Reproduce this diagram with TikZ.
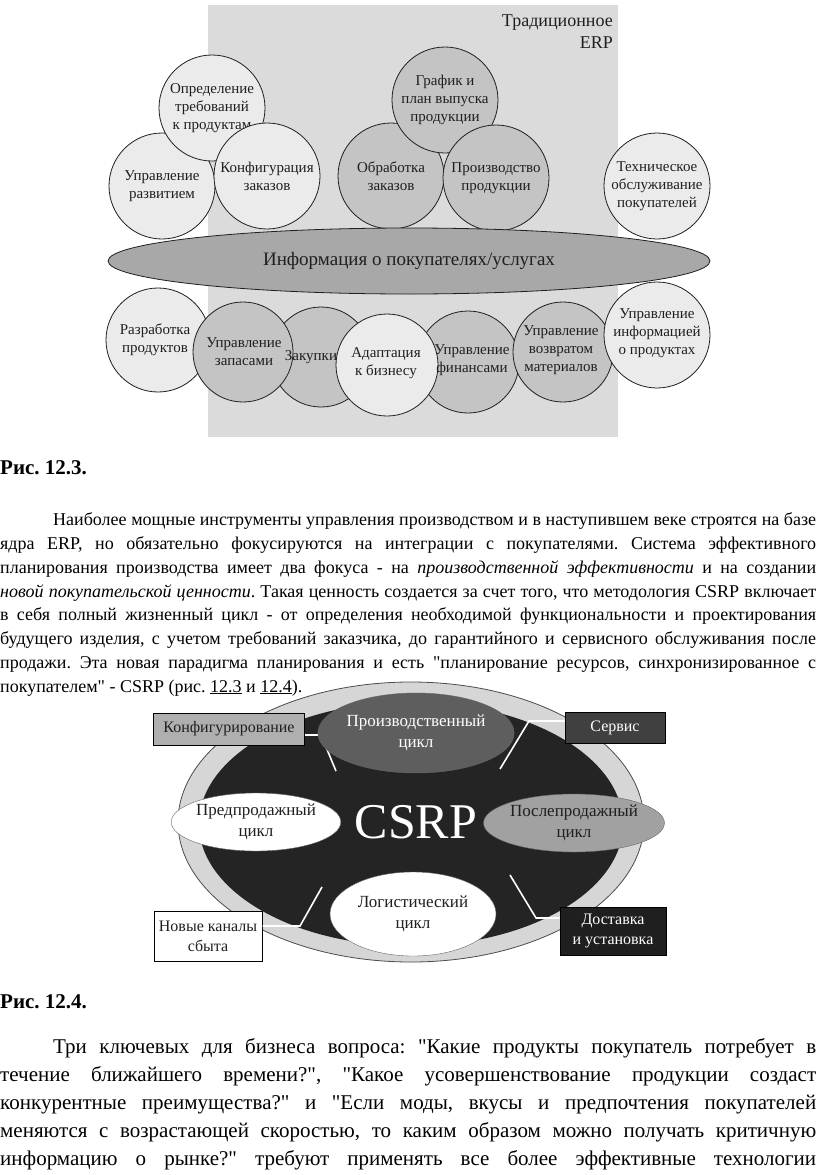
\documentclass[tikz,border=0pt]{standalone}
\usepackage{fontspec}
\setmainfont{Liberation Serif}
\usetikzlibrary{shapes.geometric, positioning}
\definecolor{ErpBack}{gray}{0.86}
\definecolor{CircLight}{gray}{0.92}
\definecolor{CircMid}{gray}{0.77}
\definecolor{InfoGray}{gray}{0.66}
\definecolor{RingGray}{gray}{0.84}
\definecolor{CoreDark}{gray}{0.14}
\definecolor{ProdGray}{gray}{0.37}
\definecolor{PostGray}{gray}{0.63}
\definecolor{InkBlack}{gray}{0.12}
\tikzset{
  % кружки ERP
  erp node/.style={circle,draw=InkBlack,line width=0.8pt,minimum size=106pt,inner sep=0pt,
    align=center,text=InkBlack,font=\fontsize{15}{18}\selectfont},
  erp light/.style={erp node,fill=CircLight},
  erp mid/.style={erp node,fill=CircMid},
  erp text/.style={inner sep=0pt,align=center,text=InkBlack,font=\fontsize{15}{18}\selectfont},
  % овалы CSRP
  cycle oval/.style={ellipse,inner sep=0pt,align=center,font=\fontsize{17}{21}\selectfont},
  % подписи-прямоугольники
  label box/.style={rectangle,draw=black,line width=1pt,inner sep=0pt,align=center,
    font=\fontsize{16}{20}\selectfont},
  connect line/.style={draw=white,line width=1.6pt},
  % строки текста
  text line/.style={anchor=base west,inner sep=0pt,text=black},
  caption/.style={anchor=base west,inner sep=0pt,font=\bfseries\fontsize{21}{24}\selectfont}
}
\newcommand{\fullline}[1]{\makebox[816pt][s]{#1}}
\newcommand{\qq}{\textquotedbl}
\frenchspacing

\begin{document}
\begin{tikzpicture}[x=1pt,y=-1pt]
  \useasboundingbox[fill=white] (0,0) rectangle (816,1175);

  % Рис. 12.3
  \node[fill=ErpBack,minimum width=410pt,minimum height=432pt,inner sep=0pt] (erp) at (413,221) {};
  \node[anchor=north east,align=right,inner sep=0pt,text=InkBlack,font=\fontsize{18}{22}\selectfont]
    (erptitle) at (613,15) {Традиционное\\ERP};

  \node[erp light] (dev) at (162,186) {Управление\\развитием};
  \node[erp light] (req) at (212,108) {Определение\\требований\\к продуктам};
  \node[erp light] (cfg) at (267,176) {Конфигурация\\заказов};
  \node[erp mid] (ord) at (391,176) {Обработка\\заказов};
  \node[erp mid] (sched) at (445,100) {График и\\план выпуска\\продукции};
  \node[erp mid] (prod) at (496,178) {Производство\\продукции};
  \node[erp light] (tech) at (657,186) {Техническое\\обслуживание\\покупателей};

  % нижний ряд: сначала круги, потом надписи
  \node[erp light,minimum size=104pt] (rd) at (158,340) {};
  \node[erp mid,minimum size=100pt] (buy) at (321,357) {};
  \node[erp mid,minimum size=100pt] (inv) at (243,352) {};
  \node[erp mid,minimum size=102pt] (fin) at (468,362) {};
  \node[erp light,minimum size=102pt] (adp) at (387,365) {};
  \node[erp mid,minimum size=100pt] (ret) at (563,352) {};
  \node[erp light,minimum size=106pt] (pim) at (657,335) {};
  \node[erp text] (rdtext) at (155,340) {Разработка\\продуктов};
  \node[erp text] (invtext) at (244,352) {Управление\\запасами};
  \node[erp text] (buytext) at (311,357) {Закупки};
  \node[erp text] (adptext) at (386,363) {Адаптация\\к бизнесу};
  \node[erp text] (fintext) at (472,360) {Управление\\финансами};
  \node[erp text] (rettext) at (561,350) {Управление\\возвратом\\материалов};
  \node[erp text] (pimtext) at (657,333) {Управление\\информацией\\о продуктах};

  \node[ellipse,draw=InkBlack,line width=0.8pt,fill=InfoGray,minimum width=602pt,minimum height=66pt,
    inner sep=0pt,text=InkBlack,font=\fontsize{19}{22}\selectfont] (info) at (409,261)
    {Информация о покупателях/услугах};

  \node[caption] (cap3) at (0,474) {Рис. 12.3.};

  \begin{scope}[font=\fontsize{18}{22}\selectfont]
    \node[text line] (p1a) at (0,525) {\fullline{\hspace*{53pt}Наиболее мощные инструменты управления производством и в наступившем веке строятся на базе}};
    \node[text line] (p1b) at (0,549) {\fullline{ядра ERP, но обязательно фокусируются на интеграции с покупателями. Система эффективного}};
    \node[text line] (p1c) at (0,573) {\fullline{планирования производства имеет два фокуса - на \textit{производственной эффективности} и на создании}};
    \node[text line] (p1d) at (0,597) {\fullline{\textit{новой покупательской ценности}. Такая ценность создается за счет того, что методология CSRP включает}};
    \node[text line] (p1e) at (0,620) {\fullline{в себя полный жизненный цикл - от определения необходимой функциональности и проектирования}};
    \node[text line] (p1f) at (0,644) {\fullline{будущего изделия, с учетом требований заказчика, до гарантийного и сервисного обслуживания после}};
    \node[text line] (p1g) at (0,668) {\fullline{продажи. Эта новая парадигма планирования и есть \qq планирование ресурсов, синхронизированное с}};
    \node[text line] (p1h) at (0,692) {покупателем\qq\ - CSRP (рис. \underline{12.3} и \underline{12.4}).};
  \end{scope}

  % Рис. 12.4
  \node[ellipse,draw=black!70,line width=0.8pt,fill=RingGray,minimum width=466pt,minimum height=280pt,
    inner sep=0pt] (ring) at (411,822) {};
  \node[ellipse,fill=CoreDark,minimum width=424pt,minimum height=244pt,inner sep=0pt] (core) at (411,824) {};

  \coordinate (cfgbend) at (321,735);
  \coordinate (cfgend) at (336,771);
  \coordinate (srvbend) at (529,721);
  \coordinate (srvend) at (500,769);
  \coordinate (newbend) at (300,926);
  \coordinate (newend) at (322,887);
  \coordinate (dlvbend) at (536,918);
  \coordinate (dlvend) at (510,875);

  \node[label box,fill=PostGray!85,minimum width=151pt,minimum height=32pt,text=InkBlack] (konf) at (229,729) {Конфигурирование};
  \node[label box,fill=black!75,minimum width=100pt,minimum height=31pt,text=white] (serv) at (615,728) {Сервис};
  \node[label box,fill=white,minimum width=108pt,minimum height=50pt,text=InkBlack] (chan) at (208,936) {Новые каналы\\сбыта};
  \node[label box,fill=black!88,minimum width=106pt,minimum height=48pt,text=white] (deliv) at (613,931) {Доставка\\и установка};

  \draw[connect line] (konf.east |- cfgbend) -- (cfgbend) -- (cfgend);
  \draw[connect line] (serv.west |- srvbend) -- (srvbend) -- (srvend);
  \draw[connect line] (chan.east |- newbend) -- (newbend) -- (newend);
  \draw[connect line] (deliv.west |- dlvbend) -- (dlvbend) -- (dlvend);

  \node[cycle oval,fill=ProdGray,draw=black!60,minimum width=156pt,minimum height=80pt,text=white] (prodcyc) at (416,733) {Производственный\\цикл};
  \node[cycle oval,fill=white,draw=black!60,minimum width=150pt,minimum height=58pt,text=InkBlack] (precyc) at (256,822) {Предпродажный\\цикл};
  \node[cycle oval,fill=PostGray,draw=black!60,minimum width=134pt,minimum height=58pt,text=InkBlack] (postcyc) at (574,823) {Послепродажный\\цикл};
  \node[cycle oval,fill=white,draw=black!60,minimum width=166pt,minimum height=84pt,text=InkBlack] (logcyc) at (413,914) {Логистический\\цикл};
  \node[inner sep=0pt,text=white,font=\fontsize{50}{50}\selectfont] (csrp) at (416,822) {CSRP};

  \node[caption] (cap4) at (0,1008) {Рис. 12.4.};

  \begin{scope}[font=\fontsize{21}{26}\selectfont]
    \node[text line] (p2a) at (0,1053) {\fullline{\hspace*{53pt}Три ключевых для бизнеса вопроса: \qq Какие продукты покупатель потребует в}};
    \node[text line] (p2b) at (0,1081) {\fullline{течение ближайшего времени?\qq, \qq Какое усовершенствование продукции создаст}};
    \node[text line] (p2c) at (0,1109) {\fullline{конкурентные преимущества?\qq\ и \qq Если моды, вкусы и предпочтения покупателей}};
    \node[text line] (p2d) at (0,1137) {\fullline{меняются с возрастающей скоростью, то каким образом можно получать критичную}};
    \node[text line] (p2e) at (0,1165) {\fullline{информацию о рынке?\qq\ требуют применять все более эффективные технологии}};
  \end{scope}
\end{tikzpicture}
\end{document}
